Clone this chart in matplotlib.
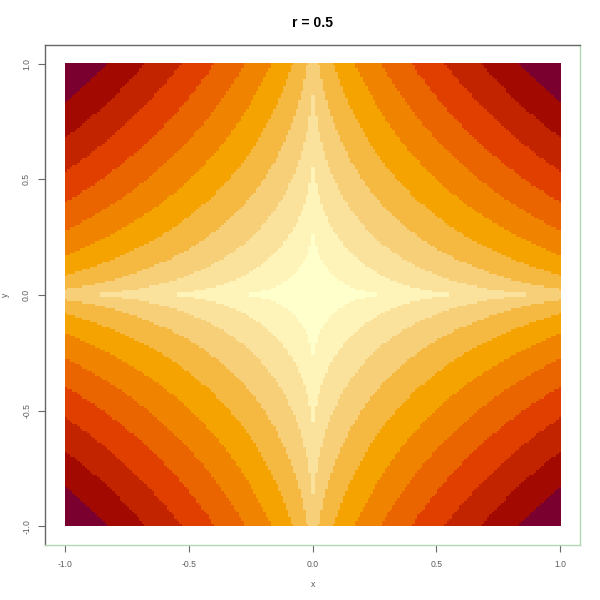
import numpy as np
import matplotlib
matplotlib.use("Agg")
import matplotlib.pyplot as plt
from matplotlib.colors import ListedColormap, BoundaryNorm

# chart parameters
r = 0.5
n_grid = 200
z_max = 4.0
band_colors = ["#FFFFCC", "#FEF4BA", "#FAE29C", "#F6CF78", "#F5B841", "#F4A301",
               "#F08300", "#EA6400", "#E03F00", "#C22400", "#A20900", "#7A0030"]
ticks = [-1.0, -0.5, 0.0, 0.5, 1.0]
tick_labels = ["-1.0", "-0.5", "0.0", "0.5", "1.0"]

x = np.linspace(-1, 1, n_grid)
y = np.linspace(-1, 1, n_grid)
xx, yy = np.meshgrid(x, y)
z = (np.abs(xx) ** r + np.abs(yy) ** r) ** (1 / r)

levels = np.linspace(0, z_max, len(band_colors) + 1)
cmap = ListedColormap(band_colors)
norm = BoundaryNorm(levels, cmap.N)

fig = plt.figure(figsize=(6, 6), dpi=100)
ax = fig.add_axes([0.075, 0.0917, 0.892, 0.8333])
ax.imshow(z, cmap=cmap, norm=norm, origin="lower", extent=[-1, 1, -1, 1],
          interpolation="nearest", aspect="auto")
ax.set_xlim(-1.08, 1.08)
ax.set_ylim(-1.08, 1.08)

font = "Liberation Sans"
txt_col = "#5a5f5a"
ax.set_xticks(ticks)
ax.set_xticklabels(tick_labels, fontsize=6.2, family=font, color=txt_col)
ax.set_yticks(ticks)
ax.set_yticklabels(tick_labels, fontsize=6.2, family=font, color=txt_col,
                   rotation=90, va="center")
ax.tick_params(direction="out", length=5, width=0.8, color="#6a6a6a")
ax.tick_params(axis="x", pad=6)
ax.tick_params(axis="y", pad=5)
ax.set_xlabel("x", fontsize=6.2, family=font, color=txt_col, labelpad=8)
ax.set_ylabel("y", fontsize=6.2, family=font, color=txt_col, labelpad=9)
ax.set_title("r = 0.5", fontsize=10, family=font, fontweight="bold", pad=13)

ax.spines["left"].set_color("#666666")
ax.spines["top"].set_color("#666666")
ax.spines["bottom"].set_color("#b5d6b5")
ax.spines["right"].set_color("#b5d6b5")
for s in ax.spines.values():
    s.set_linewidth(1.0)

fig.savefig("out.png", dpi=100)
